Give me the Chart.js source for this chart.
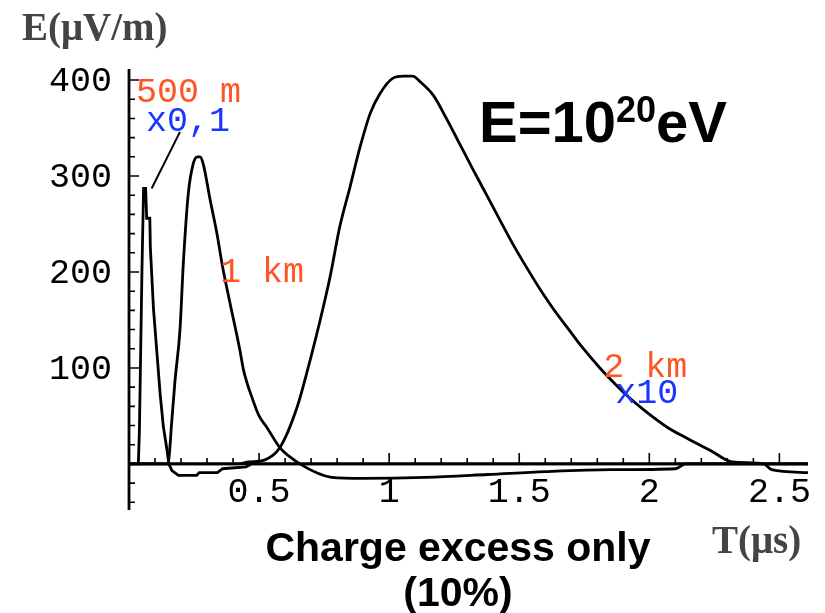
<!DOCTYPE html>
<html>
<head>
<meta charset="utf-8">
<script src="https://cdn.jsdelivr.net/npm/chart.js@4/dist/chart.umd.min.js"></script>
<style>
  html, body { margin: 0; padding: 0; background: #fff; }
</style>
</head>
<body>
<canvas id="c" width="825" height="613"></canvas>
<script>
// time in microseconds, field in microvolt per metre

// 500 m curve (scaled x0.1)
const t500 = [0, 0.030, 0.036, 0.040, 0.050, 0.056, 0.064, 0.068, 0.080, 0.082, 0.094, 0.109, 0.120, 0.132, 0.147, 0.153, 0.165, 0.190, 0.260, 0.270, 0.340, 0.360, 0.450, 0.470, 2.61];
const e500 = [0, 0, 0, 35, 205, 287, 287, 256, 256, 226, 162, 110, 72, 39, 13, 0, -7, -12, -12, -9, -9, -5, -3, 0, 0];

// leader from the 500 m peak up to its "x0,1" label
const tLeader = [0.087, 0.196];
const eLeader = [287, 346];

// 1 km curve
const t1km = [0, 0.145, 0.152, 0.164, 0.177, 0.196, 0.209, 0.228, 0.247, 0.263, 0.273, 0.285, 0.312, 0.338, 0.360, 0.388, 0.426, 0.440, 0.477, 0.500, 0.530, 0.580, 0.630, 0.670, 0.720, 0.780, 0.900, 1.140, 1.380, 1.600, 1.850, 2.100, 2.140, 2.61];
const e1km = [0, 0, 3, 43, 87, 140, 210, 282, 313, 320, 320, 313, 275, 240, 205, 168, 119, 98, 66, 50, 38, 17, 5, -2, -9, -14, -15, -14, -11, -8, -6, -5, 0, 0];

// 2 km curve (scaled x10)
const t2km = [0, 0.420, 0.460, 0.520, 0.580, 0.646, 0.696, 0.735, 0.773, 0.810, 0.850, 0.888, 0.927, 0.965, 1.015, 1.055, 1.090, 1.120, 1.170, 1.220, 1.270, 1.320, 1.375, 1.430, 1.480, 1.530, 1.580, 1.630, 1.685, 1.735, 1.810, 1.877, 1.915, 1.980, 2.070, 2.150, 2.235, 2.320, 2.440, 2.470, 2.61];
const e2km = [0, 0, 2, 4, 17, 59, 108, 150, 195, 247, 289, 330, 365, 386, 402, 404, 404, 398, 384, 360, 334, 308, 280, 252, 227, 204, 182, 162, 142, 124, 100, 81, 71, 56, 38, 26, 14, 2, 0, -6, -9];

// axis ticks
const xMajor = [0.5, 1, 1.5, 2, 2.5];
const xMajorText = ['0.5', '1', '1.5', '2', '2.5'];
const yMajor = [100, 200, 300, 400];
const yMajorText = ['100', '200', '300', '400'];

// curve labels: text, anchor time, anchor field (baseline)
const labelText = ['500 m', 'x0,1', '1 km', '2 km', 'x10'];
const labelT = [0.027, 0.065, 0.350, 1.823, 1.869];
const labelE = [377, 347, 190, 91, 64];

const ORANGE = '#ff5526';
const BLUE = '#1a35ff';
const labelColor = [ORANGE, BLUE, ORANGE, ORANGE, BLUE];
const MONO = '"Liberation Mono", "DejaVu Sans Mono", monospace';

function pts(ts, es) {
  return ts.map((t, i) => ({ x: t, y: es[i] }));
}

const axesPlugin = {
  id: 'axes',
  beforeDatasetsDraw(chart) {
    const { ctx, scales: { x, y } } = chart;
    const x0 = x.getPixelForValue(0);
    const y0 = y.getPixelForValue(0);
    ctx.save();
    ctx.strokeStyle = '#000';
    ctx.lineWidth = 2.8;
    ctx.beginPath();
    ctx.moveTo(x0, y0);
    ctx.lineTo(x.getPixelForValue(x.max), y0);
    ctx.moveTo(x0, y.getPixelForValue(y.min));
    ctx.lineTo(x0, y.getPixelForValue(y.max));
    ctx.stroke();

    ctx.lineWidth = 1.6;
    ctx.beginPath();
    for (let i = 1; i <= 25; i++) {
      const px = x.getPixelForValue(i / 10);
      const len = i % 5 === 0 ? 11 : 6;
      ctx.moveTo(px, y0);
      ctx.lineTo(px, y0 - len);
    }
    for (let v = -40; v <= 400; v += 20) {
      if (v === 0) continue;
      const py = y.getPixelForValue(v);
      const len = v % 100 === 0 ? 10 : 6;
      ctx.moveTo(x0, py);
      ctx.lineTo(x0 + len, py);
    }
    ctx.stroke();
    ctx.restore();
  },
  afterDraw(chart) {
    const { ctx, scales: { x, y } } = chart;
    const x0 = x.getPixelForValue(0);
    const y0 = y.getPixelForValue(0);
    ctx.save();

    // tick labels
    ctx.fillStyle = '#000';
    ctx.font = '35px ' + MONO;
    ctx.textBaseline = 'alphabetic';
    ctx.textAlign = 'center';
    xMajor.forEach((v, i) => ctx.fillText(xMajorText[i], x.getPixelForValue(v), y0 + 38));
    ctx.textAlign = 'right';
    yMajor.forEach((v, i) => ctx.fillText(yMajorText[i], x0 - 17, y.getPixelForValue(v) + 11));

    // curve labels
    ctx.textAlign = 'left';
    labelText.forEach((s, i) => {
      ctx.fillStyle = labelColor[i];
      ctx.fillText(s, x.getPixelForValue(labelT[i]), y.getPixelForValue(labelE[i]));
    });

    // axis titles
    ctx.fillStyle = '#444';
    ctx.font = 'bold 39px "Liberation Serif", serif';
    ctx.fillText('E(\u03bcV/m)', 22, 40);
    ctx.fillText('T(\u03bcs)', 712, 553);

    // energy
    ctx.fillStyle = '#000';
    ctx.font = 'bold 58px "Liberation Sans", sans-serif';
    let px = 479;
    ctx.fillText('E=10', px, 142);
    px += ctx.measureText('E=10').width;
    ctx.font = 'bold 36px "Liberation Sans", sans-serif';
    ctx.fillText('20', px, 122);
    px += ctx.measureText('20').width;
    ctx.font = 'bold 58px "Liberation Sans", sans-serif';
    ctx.fillText('eV', px, 142);

    // caption
    ctx.textAlign = 'center';
    ctx.font = 'bold 41px "Liberation Sans", sans-serif';
    ctx.fillText('Charge excess only', 458, 561);
    ctx.fillText('(10%)', 458, 606);
    ctx.restore();
  }
};

new Chart(document.getElementById('c'), {
  type: 'line',
  data: {
    datasets: [
      { label: '500 m', data: pts(t500, e500) },
      { label: 'leader', data: pts(tLeader, eLeader), borderWidth: 2 },
      { label: '1 km', data: pts(t1km, e1km), cubicInterpolationMode: 'monotone' },
      { label: '2 km', data: pts(t2km, e2km), cubicInterpolationMode: 'monotone' }
    ]
  },
  options: {
    responsive: false,
    animation: false,
    layout: { padding: { left: 129, right: 17, top: 69, bottom: 103 } },
    plugins: { legend: { display: false }, tooltip: { enabled: false } },
    elements: {
      point: { radius: 0 },
      line: { tension: 0, borderWidth: 2.8, borderColor: '#000', fill: false }
    },
    scales: {
      x: { type: 'linear', min: 0, max: 2.61, display: false },
      y: { type: 'linear', min: -48, max: 411.5, display: false }
    }
  },
  plugins: [axesPlugin]
});
</script>
</body>
</html>
